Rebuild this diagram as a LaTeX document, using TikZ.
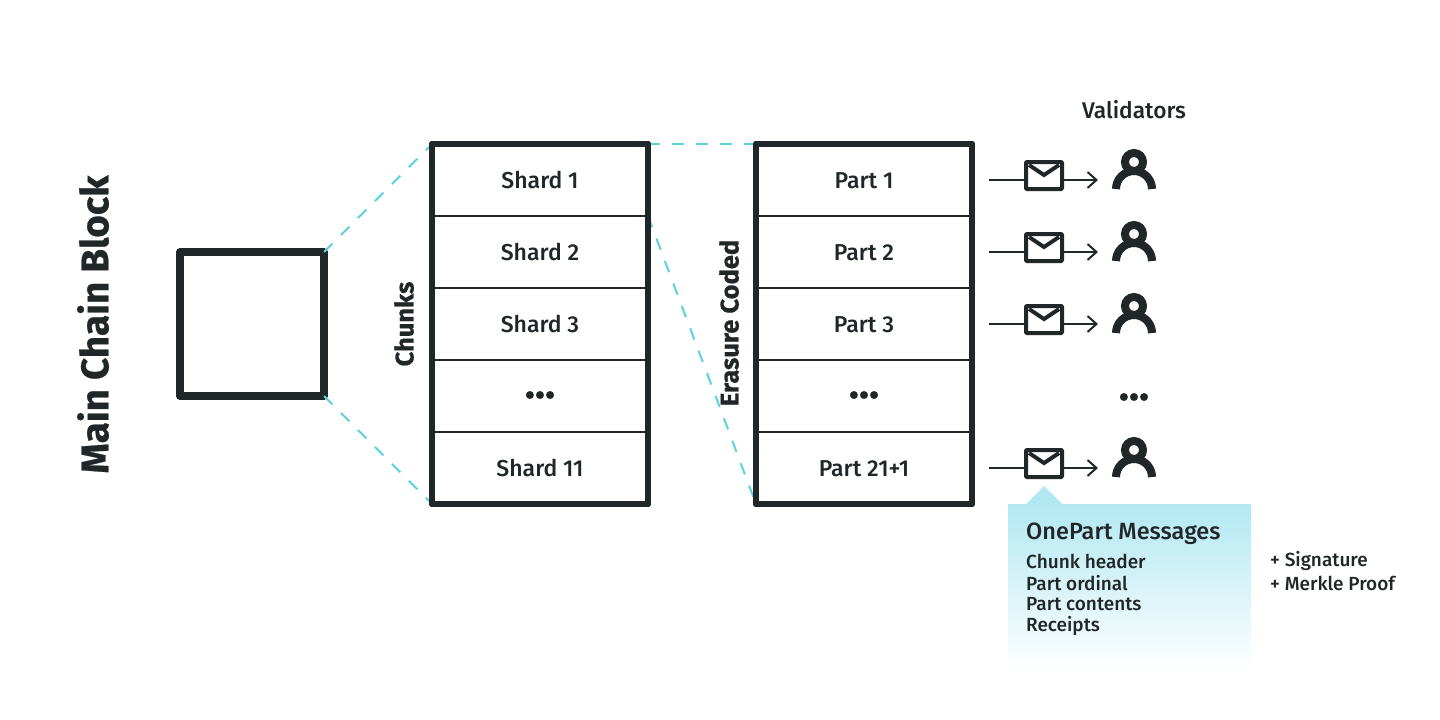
\documentclass[tikz,border=0pt]{standalone}
\usepackage{fontspec}
\setmainfont{Fira Sans Medium}
\newfontfamily\heavyfont{Fira Sans Bold}[FakeBold=0.6]
\usetikzlibrary{arrows.meta}
\definecolor{ink}{HTML}{212629}
\definecolor{dashc}{HTML}{5AD2E0}
\definecolor{panelc}{HTML}{B2E8F2}
\tikzset{
  x=1pt,y=-1pt,
  rowcell/.style={draw=ink,line width=2pt,minimum width=216pt,minimum height=72pt,inner sep=0pt,outer sep=0pt,
    text=ink,font=\fontsize{23}{26}\selectfont,text height=17pt,text depth=0pt},
  outerbox/.style={draw=ink,line width=6pt,minimum width=216pt,minimum height=360pt,inner sep=0pt,outer sep=0pt,line join=round},
  blockbox/.style={draw=ink,line width=8pt,minimum width=144pt,minimum height=144pt,inner sep=0pt,outer sep=0pt,line join=round},
  linkdash/.style={draw=dashc,line width=2pt,dash pattern=on 12pt off 12pt},
  wire/.style={draw=ink,line width=2pt},
  arrowwire/.style={wire,-{Straight Barb[length=9pt,width=16pt,line width=2pt]},shorten >=14pt},
  mail/.style={draw=ink,fill=white,line width=4pt,minimum width=36pt,minimum height=27pt,inner sep=0pt,outer sep=0pt,rounded corners=1pt},
  personbox/.style={minimum width=44pt,minimum height=40pt,inner sep=0pt,outer sep=0pt},
  vlabel/.style={rotate=90,text=ink,inner sep=0pt,font=\fontsize{25.5}{28}\heavyfont},
  plain/.style={text=ink,inner sep=0pt,font=\fontsize{22.7}{26}\selectfont},
  small/.style={text=ink,inner sep=0pt,anchor=west,font=\fontsize{19}{22}\selectfont},
  moredots/.style={text=ink,inner sep=0pt,font=\fontsize{42}{44}\heavyfont},
}
\begin{document}
\begin{tikzpicture}
\useasboundingbox (0,0) rectangle (1440,720);
\fill[white] (0,0) rectangle (1440,720);

% panel
\shade[top color=panelc,bottom color=white,draw=none] (1008,504) rectangle (1251,670);
\fill[panelc] (1026,504) -- (1044,486) -- (1062,504) -- cycle;

% box nodes (rows first, frames on top)
\node[blockbox] (block) at (252,324) {};
\node[rowcell] (s1) at (540,180) {Shard 1};
\node[rowcell] (s2) at (540,252) {Shard 2};
\node[rowcell] (s3) at (540,324) {Shard 3};
\node[rowcell] (s4) at (540,396) {};
\node[rowcell] (s5) at (540,468) {Shard 11};
\node[rowcell] (p1) at (864,180) {Part 1};
\node[rowcell] (p2) at (864,252) {Part 2};
\node[rowcell] (p3) at (864,324) {Part 3};
\node[rowcell] (p4) at (864,396) {};
\node[rowcell] (p5) at (864,468) {Part 21+1};
\node[outerbox] (shards) at (540,324) {};
\node[outerbox] (parts) at (864,324) {};

% dashed links
\draw[linkdash] (block.north east) -- (shards.north west);
\draw[linkdash] (block.south east) -- (shards.south west);
\draw[linkdash] (shards.north east) -- (parts.north west);
\draw[linkdash] (s1.south east) -- (parts.south west);
\node[outerbox] at (540,324) {};
\node[outerbox] at (864,324) {};

\node[moredots] (sdots) at (540,395) {...};
\node[moredots] (pdots) at (864,395) {...};
\node[moredots] (vdots) at (1134,397) {...};

% labels
\node[vlabel,font=\fontsize{38.5}{42}\heavyfont] (title) at (93,324.5) {Main Chain Block};
\node[vlabel] (chunks) at (404,324) {Chunks};
\node[vlabel] (erasure) at (729,323) {Erasure Coded};
\node[plain] (validators) at (1134,110) {Validators};

% envelopes and validators
\foreach \i/\yy in {1/180,2/252,3/324,5/468}{
  \coordinate (src\i) at (989,\yy);
  \node[mail] (env\i) at (1044,\yy-4.5) {};
  \node[personbox] (val\i) at (1134,\yy-11) {};
  \draw[wire] (src\i) -- (src\i -| env\i.west);
  \draw[arrowwire] (env\i.east |- src\i) -- (src\i -| val\i.west);
  \draw[draw=ink,line width=4pt,line join=miter] ([shift={(-15,-24)}]env\i.south) -- ([shift={(0,-14)}]env\i.south) -- ([shift={(15,-24)}]env\i.south);
  \draw[draw=ink,line width=8pt] ([shift={(0,-27)}]val\i.south) circle[radius=9pt];
  \draw[draw=ink,line width=8pt] ([shift={(-18,0)}]val\i.south) arc[start angle=180,end angle=0,radius=18pt];
}

% panel text
\node[plain,anchor=west,font=\fontsize{23.5}{26}\selectfont] (opm) at (1026,534) {OnePart Messages};
\node[small] (t1) at (1026,561) {Chunk header};
\node[small] (t2) at (1026,583) {Part ordinal};
\node[small] (t3) at (1026,604) {Part contents};
\node[small] (t4) at (1026,626) {Receipts};
\node[small] (t5) at (1270,561) {+ Signature};
\node[small] (t6) at (1270,583) {+ Merkle Proof};
\end{tikzpicture}
\end{document}
